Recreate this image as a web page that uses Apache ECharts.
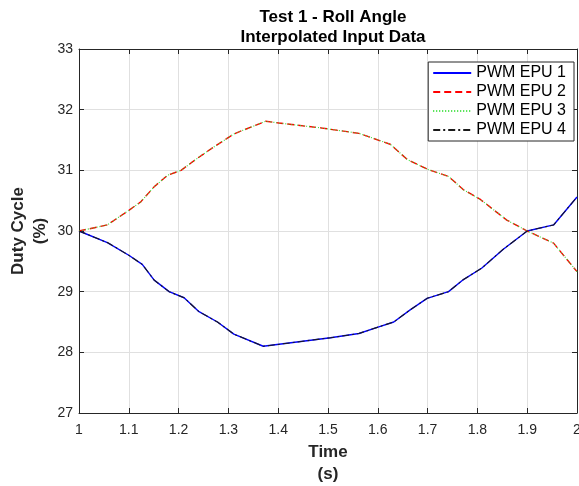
<!DOCTYPE html>
<html><head><meta charset="utf-8">
<script src="https://cdn.jsdelivr.net/npm/echarts@6/dist/echarts.min.js"></script>
<style>html,body{margin:0;padding:0;background:#fff}#c{width:579px;height:486px}</style>
</head><body><div id="c"></div>
<script>
const seriesNames = ['PWM EPU 1','PWM EPU 2','PWM EPU 3','PWM EPU 4'];
const timeLow = [1.0,1.057,1.1,1.127,1.151,1.181,1.211,1.241,1.278,1.311,1.37,1.505,1.562,1.602,1.632,1.665,1.699,1.742,1.772,1.809,1.852,1.9,1.953,2.0];
const valLow  = [30.0,29.81,29.6,29.45,29.19,29.0,28.9,28.67,28.5,28.3,28.1,28.24,28.31,28.42,28.5,28.7,28.89,29.0,29.2,29.39,29.7,30.0,30.1,30.56];
const timeHigh = [1.0,1.057,1.1,1.124,1.151,1.178,1.205,1.238,1.268,1.311,1.375,1.401,1.485,1.562,1.625,1.659,1.699,1.742,1.772,1.806,1.859,1.9,1.953,2.0];
const valHigh  = [30.0,30.1,30.34,30.48,30.73,30.92,31.0,31.2,31.37,31.6,31.81,31.78,31.7,31.61,31.43,31.18,31.02,30.9,30.68,30.52,30.18,30.0,29.8,29.33];
const xTicks = [1,1.1,1.2,1.3,1.4,1.5,1.6,1.7,1.8,1.9,2];
const yTicks = [27,28,29,30,31,32,33];

const pairs = (t,v)=>t.map((x,i)=>[x,v[i]]);
const font = 'Liberation Sans, Arial, Helvetica, sans-serif';
const styles = [
  {color:'#0000ff', type:'solid', w:1.4},
  {color:'#ff0000', type:[7,4], w:1.4},
  {color:'#33dd33', type:[1,2], w:1.1},
  {color:'#1a1a1a', type:[7,3,2,3], w:1.1}
];
const dataSets = [pairs(timeLow,valLow), pairs(timeHigh,valHigh), pairs(timeHigh,valHigh), pairs(timeLow,valLow)];

const chart = echarts.init(document.getElementById('c'));
const axisCommon = {
  axisLine:{show:true,lineStyle:{color:'#262626',width:1}},
  axisTick:{show:true,inside:true,length:5,lineStyle:{color:'#262626'}},
};
chart.setOption({
  animation:false,
  backgroundColor:'#fff',
  title:{
    text:'Test 1 - Roll Angle\nInterpolated Input Data',
    left:328, top:2, textAlign:'center',
    textStyle:{fontFamily:font,fontSize:17,fontWeight:'bold',color:'#000',lineHeight:20}
  },
  legend:{
    data:seriesNames, orient:'vertical', right:5, top:62,
    backgroundColor:'#fff', borderColor:'#262626', borderWidth:1,
    padding:[3,8,3,4], itemGap:3, itemWidth:38, itemHeight:14,
    itemStyle:{opacity:0},
    textStyle:{fontFamily:font,fontSize:16,color:'#000'}
  },
  grid:{left:79,right:2,top:49,bottom:73,outerBoundsMode:'none',containLabel:false},
  xAxis:[{
    type:'value', min:1, max:2, interval:0.1,
    ...axisCommon,
    splitLine:{show:true,lineStyle:{color:'#e0e0e0'}},
    axisLabel:{fontFamily:font,fontSize:14,color:'#262626',margin:10,
      formatter:v=>{const t=xTicks.find(x=>Math.abs(x-v)<1e-6);return t===undefined?'':String(t);}},
    name:'Time\n(s)', nameLocation:'middle', nameGap:28, nameMoveOverlap:false,
    nameTextStyle:{fontFamily:font,fontSize:17,fontWeight:'bold',color:'#262626',lineHeight:22,verticalAlign:'top'}
  },{
    type:'value', min:1, max:2, interval:0.1, position:'top',
    ...axisCommon, axisLabel:{show:false}, splitLine:{show:false}
  }],
  yAxis:[{
    type:'value', min:27, max:33, interval:1,
    ...axisCommon,
    splitLine:{show:true,lineStyle:{color:'#e0e0e0'}},
    axisLabel:{fontFamily:font,fontSize:14,color:'#262626',margin:6,
      formatter:v=>yTicks.includes(v)?String(v):''},
    name:'Duty Cycle\n(%)', nameLocation:'middle', nameGap:28, nameRotate:90, nameMoveOverlap:false,
    nameTextStyle:{fontFamily:font,fontSize:17,fontWeight:'bold',color:'#262626',lineHeight:22}
  },{
    type:'value', min:27, max:33, interval:1, position:'right',
    ...axisCommon, axisLabel:{show:false}, splitLine:{show:false}
  }],
  series: seriesNames.map((n,i)=>({
    name:n, type:'line', data:dataSets[i], showSymbol:false, symbol:'none',
    xAxisIndex:0, yAxisIndex:0,
    itemStyle:{color:styles[i].color},
    lineStyle:{color:styles[i].color,width:styles[i].w,type:styles[i].type}
  }))
});
</script></body></html>
